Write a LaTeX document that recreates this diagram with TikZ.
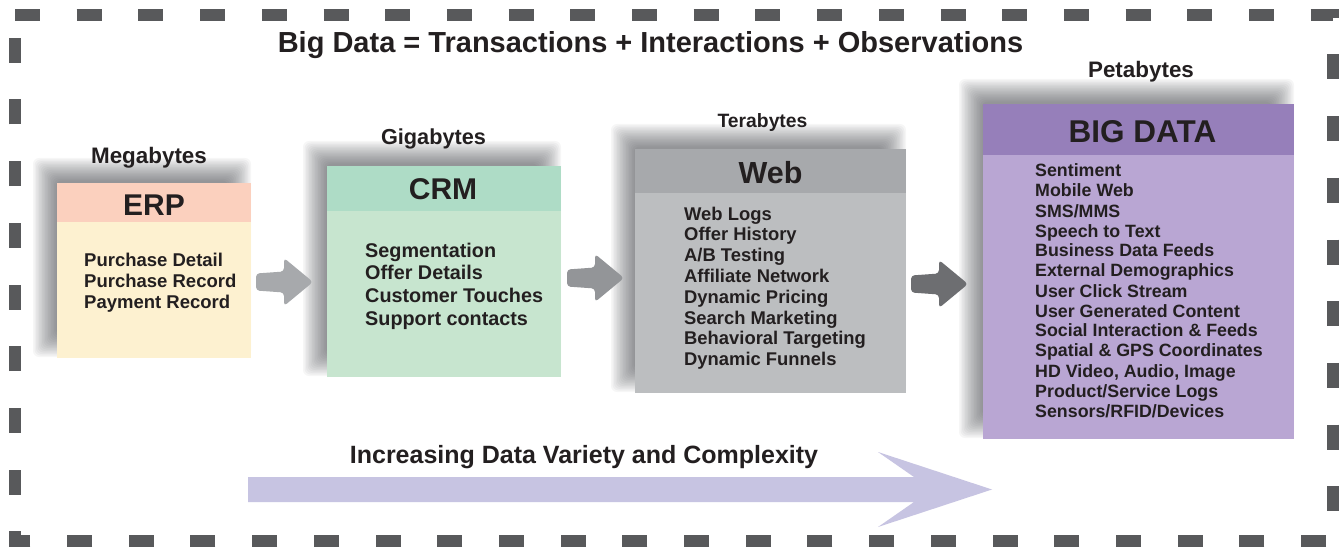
\documentclass[tikz,border=0pt]{standalone}
\usepackage{fontspec}
\setmainfont{Liberation Sans}
\usetikzlibrary{calc}
\definecolor{ink}{HTML}{231F20}
\definecolor{bordergray}{HTML}{58595B}
\definecolor{erpHead}{HTML}{FBD0BE}
\definecolor{erpBody}{HTML}{FDF1D0}
\definecolor{crmHead}{HTML}{AEDCC6}
\definecolor{crmBody}{HTML}{C7E5CF}
\definecolor{webHead}{HTML}{A7A9AC}
\definecolor{webBody}{HTML}{BCBEC0}
\definecolor{bigHead}{HTML}{967FBA}
\definecolor{bigBody}{HTML}{B9A6D3}
\definecolor{arrowA}{HTML}{A7A9AC}
\definecolor{arrowB}{HTML}{939598}
\definecolor{arrowC}{HTML}{6D6E71}
\definecolor{arrowLav}{HTML}{C7C4E2}
\definecolor{shadowtone}{HTML}{3A3B3E}
\newcommand\softshadow[4]{%
  \foreach \k in {0,...,15}{%
    \fill[shadowtone, opacity=0.042, rounded corners=6pt]
      (#1-12+1.5*\k, #2-12+1.5*\k) rectangle (#3+12-1.5*\k, #4+12-1.5*\k);
  }}
\newcommand\graydart[3]{%
  \fill[#3, rounded corners=3.5pt]
    (#1, #2-8.5) -- (#1+28, #2-10.5) -- (#1+28, #2-24) -- (#1+57, #2)
    -- (#1+28, #2+24) -- (#1+28, #2+10.5) -- (#1, #2+8.5) -- cycle;}
\tikzset{
  panel/.style={anchor=north west, inner sep=0pt, outer sep=0pt, draw=none},
  hdrtext/.style={anchor=base, inner sep=0pt, text=ink, font=\fontsize{30}{30}\selectfont\bfseries},
  sizelabel/.style={anchor=base, inner sep=0pt, text=ink, font=\fontsize{22.4}{22.4}\selectfont\bfseries},
  listtext/.style={anchor=base west, inner sep=0pt, text=ink},
}
\begin{document}
\begin{tikzpicture}[x=1pt, y=-1pt]
\useasboundingbox (0,0) rectangle (1340,548);
\fill[white] (0,0) rectangle (1340,548);

% dashed frame
\draw[line width=12pt, bordergray, dash pattern=on 25pt off 36.7pt]
  (15,15) -- (1333,15) -- (1333,541) -- (15,541) -- cycle;

% title
\node[anchor=base, inner sep=0pt, text=ink, font=\fontsize{29}{29}\selectfont\bfseries]
  (title) at (650.5,53) {Big Data = Transactions + Interactions + Observations};

% shadows
\softshadow{45}{170}{239}{345}
\softshadow{315}{153}{549}{364}
\softshadow{623}{136}{894}{380}
\softshadow{971}{91}{1282}{426}

% ERP
\node[panel, fill=erpBody, minimum width=194pt, minimum height=175pt] (erp) at (57,183) {};
\node[panel, fill=erpHead, minimum width=194pt, minimum height=39pt] (erpH) at (57,183) {};
\node[hdrtext] (erpT) at (154,215) {ERP};
\node[sizelabel] (mega) at (149,164) {Megabytes};
\node[listtext, font=\fontsize{18.5}{21}\selectfont\bfseries] (erpL) at (84,266)
  {\begin{tabular}[t]{@{}l@{}}Purchase Detail\\Purchase Record\\Payment Record\end{tabular}};

% CRM
\node[panel, fill=crmBody, minimum width=234pt, minimum height=211pt] (crm) at (327,166) {};
\node[panel, fill=crmHead, minimum width=234pt, minimum height=45pt] (crmH) at (327,166) {};
\node[hdrtext] (crmT) at (443,200) {CRM};
\node[sizelabel, font=\fontsize{21.7}{21.7}\selectfont\bfseries] (giga) at (433.5,145) {Gigabytes};
\node[listtext, font=\fontsize{19.8}{22.7}\selectfont\bfseries] (crmL) at (365,257)
  {\begin{tabular}[t]{@{}l@{}}Segmentation\\Offer Details\\Customer Touches\\Support contacts\end{tabular}};

% Web
\node[panel, fill=webBody, minimum width=271pt, minimum height=244pt] (web) at (635,149) {};
\node[panel, fill=webHead, minimum width=271pt, minimum height=44pt] (webH) at (635,149) {};
\node[hdrtext, font=\fontsize{30.5}{30.5}\selectfont\bfseries] (webT) at (770.5,183) {Web};
\node[sizelabel, font=\fontsize{19.3}{19.3}\selectfont\bfseries] (tera) at (762.5,128) {Terabytes};
\node[listtext, font=\fontsize{18.4}{20.8}\selectfont\bfseries] (webL) at (684,220)
  {\begin{tabular}[t]{@{}l@{}}Web Logs\\Offer History\\A/B Testing\\Affiliate Network\\Dynamic Pricing\\Search Marketing\\Behavioral Targeting\\Dynamic Funnels\end{tabular}};

% Big data
\node[panel, fill=bigBody, minimum width=311pt, minimum height=335pt] (big) at (983,104) {};
\node[panel, fill=bigHead, minimum width=311pt, minimum height=51pt] (bigH) at (983,104) {};
\node[hdrtext, font=\fontsize{31.5}{31.5}\selectfont\bfseries] (bigT) at (1142.5,143) {BIG DATA};
\node[sizelabel] (peta) at (1141,78) {Petabytes};
\node[listtext, font=\fontsize{17.8}{20}\selectfont\bfseries] (bigL) at (1035,177)
  {\begin{tabular}[t]{@{}l@{}}Sentiment\\Mobile Web\\SMS/MMS\\Speech to Text\\Business Data Feeds\\External Demographics\\User Click Stream\\User Generated Content\\Social Interaction \& Feeds\\Spatial \& GPS Coordinates\\HD Video, Audio, Image\\Product/Service Logs\\Sensors/RFID/Devices\end{tabular}};

% block arrows between panels
\graydart{256}{282}{arrowA}
\graydart{567}{278}{arrowB}
\graydart{911}{284}{arrowC}

% bottom arrow
\fill[arrowLav] (248,477) -- (914,477) -- (878,452) -- (992,489.5) -- (878,527) -- (914,502) -- (248,502) -- cycle;
\node[anchor=base, inner sep=0pt, text=ink, font=\fontsize{25}{25}\selectfont\bfseries]
  (variety) at (584,463) {Increasing Data Variety and Complexity};
\end{tikzpicture}
\end{document}
